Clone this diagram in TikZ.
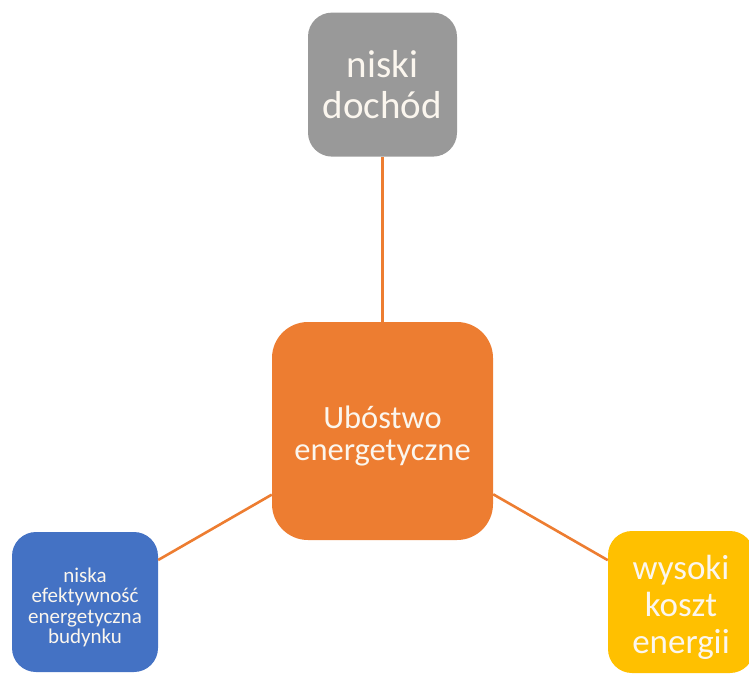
\documentclass[tikz,border=0pt]{standalone}
\usepackage{fontspec}
\setmainfont{Carlito}
\usetikzlibrary{positioning}

\definecolor{grayfill}{HTML}{999999}
\definecolor{orangefill}{HTML}{ED7D31}
\definecolor{bluefill}{HTML}{4472C4}
\definecolor{yellowfill}{HTML}{FFC000}
\definecolor{textcream}{HTML}{FBF6EE}

\begin{document}
\begin{tikzpicture}[x=1pt,y=-1pt,
  box/.style={rectangle,inner sep=0pt,align=center,text=textcream},
  link/.style={draw=orangefill,line width=2.6pt}]
\useasboundingbox (0,0) rectangle (749,673);

\node[box,fill=orangefill,rounded corners=36pt,minimum width=221pt,minimum height=218pt,
  text width=210pt,font=\fontsize{32.5}{32}\selectfont] (center) at (382.5,431) {\rule{0pt}{33pt}Ubóstwo\\energetyczne};
\node[box,fill=grayfill,rounded corners=24pt,minimum width=149pt,minimum height=144pt,
  text width=140pt,font=\fontsize{39}{41}\selectfont,above=165pt of center] (income) {niski\\dochód};
\node[box,fill=bluefill,rounded corners=24pt,minimum width=146pt,minimum height=140pt,
  text width=140pt,font=\fontsize{21}{20.5}\selectfont] (building) at (85,602) {\rule{0pt}{25pt}niska\\efektywność\\energetyczna\\budynku};
\node[box,fill=yellowfill,rounded corners=24pt,minimum width=146pt,minimum height=142pt,
  text width=140pt,font=\fontsize{35}{37}\selectfont] (cost) at (681,602) {\rule{0pt}{34.5pt}wysoki\\koszt\\energii};

\path (center) edge[link] (income);
\path (center) edge[link] (building);
\path (center) edge[link] (cost);

\end{tikzpicture}
\end{document}
